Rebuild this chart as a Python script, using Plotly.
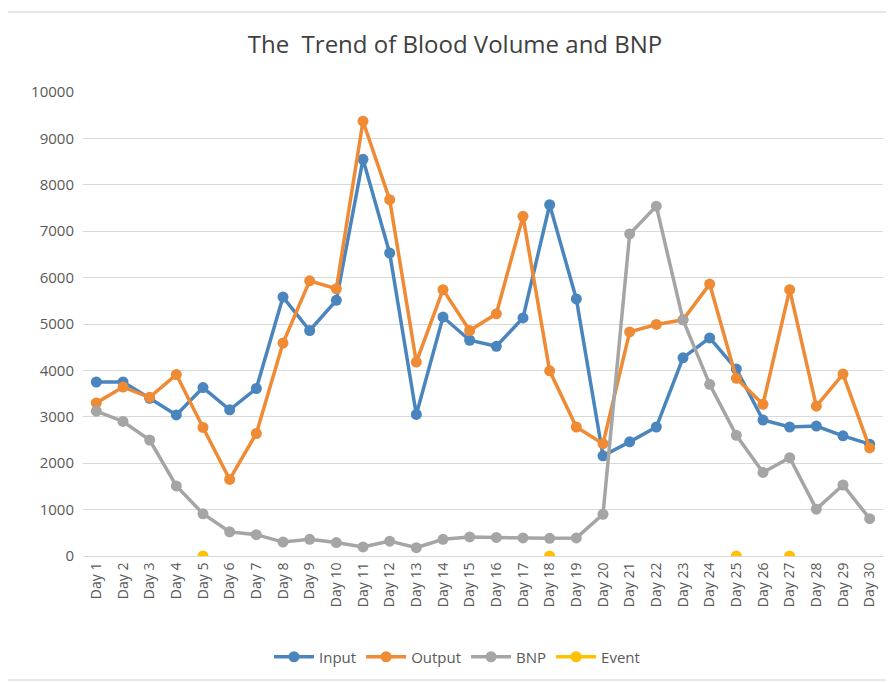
import plotly.graph_objects as go

days = [f"Day {i}" for i in range(1, 31)]

input_vals = [3750, 3750, 3400, 3040, 3630, 3150, 3610, 5580, 4860, 5510,
              8550, 6530, 3050, 5150, 4650, 4520, 5130, 7570, 5540, 2160,
              2460, 2780, 4270, 4700, 4030, 2930, 2780, 2800, 2590, 2410]
output_vals = [3300, 3640, 3420, 3910, 2770, 1650, 2640, 4590, 5930, 5760,
               9370, 7680, 4180, 5740, 4860, 5220, 7320, 3990, 2780, 2420,
               4830, 4990, 5090, 5860, 3830, 3270, 5740, 3230, 3920, 2330]
bnp_vals = [3120, 2900, 2500, 1510, 910, 520, 460, 300, 360, 290,
            195, 320, 180, 360, 410, 400, 390, 380, 390, 900,
            6940, 7540, 5090, 3700, 2600, 1800, 2120, 1010, 1530, 805]
event_vals = [None, None, None, None, 0, None, None, None, None, None,
              None, None, None, None, None, None, None, 0, None, None,
              None, None, None, None, 0, None, 0, None, None, None]

y_ticks = [0, 1000, 2000, 3000, 4000, 5000, 6000, 7000, 8000, 9000, 10000]
y_tick_text = [str(v) for v in y_ticks]

series = [
    ("Input", input_vals, "#4a85bd"),
    ("Output", output_vals, "#ef8a35"),
    ("BNP", bnp_vals, "#a5a5a5"),
    ("Event", event_vals, "#ffc000"),
]

fig = go.Figure()
for name, vals, color in series:
    fig.add_trace(go.Scatter(
        x=days, y=vals, name=name, mode="lines+markers",
        line=dict(color=color, width=3.5),
        marker=dict(color=color, size=11),
        connectgaps=False,
    ))

# page is drawn with an 8px body offset
OFF = 8
W, H = 894 - OFF, 683 - OFF
L, T = 83 - OFF, 92 - OFF
R = W - (883 - OFF)
B = H - (556 - OFF)
pw, ph = W - L - R, H - T - B

def px_x(x):
    return (x - OFF - L) / pw

def px_y(y):
    return (H - B - (y - OFF)) / ph

fig.update_layout(
    width=W, height=H,
    margin=dict(l=L, r=R, t=T, b=B, autoexpand=False),
    paper_bgcolor="white", plot_bgcolor="white",
    font=dict(family="Open Sans, Liberation Sans, sans-serif", color="#595959", size=14),
    title=dict(text="The  Trend of Blood Volume and BNP", x=(455 - OFF) / W, xanchor="center",
               y=1 - (45 - OFF) / H, yanchor="middle",
               font=dict(size=24, color="#404040")),
    showlegend=True,
    legend=dict(orientation="h", x=px_x(457), xanchor="center", y=px_y(657), yanchor="middle",
                font=dict(size=15, color="#595959"), itemwidth=40, tracegroupgap=0),
    xaxis=dict(type="category", tickangle=-90, showgrid=False, showline=True,
               linecolor="#d9d9d9", linewidth=1, ticks="", tickfont=dict(size=14),
               range=[-0.5, 29.5], automargin=False),
    yaxis=dict(range=[0, 10000], tickvals=y_ticks, ticktext=y_tick_text,
               showgrid=True, gridcolor="#d9d9d9",
               gridwidth=1, zeroline=False, showline=False, ticks="",
               tickfont=dict(size=15), ticklabelstandoff=8, automargin=False),
    shapes=[dict(type="rect", xref="paper", yref="paper",
                 x0=px_x(4), x1=px_x(890), y0=px_y(680), y1=px_y(12),
                 line=dict(color="#d0d0d0", width=1), fillcolor="rgba(0,0,0,0)",
                 layer="below")],
)

fig.write_html("out.html")
